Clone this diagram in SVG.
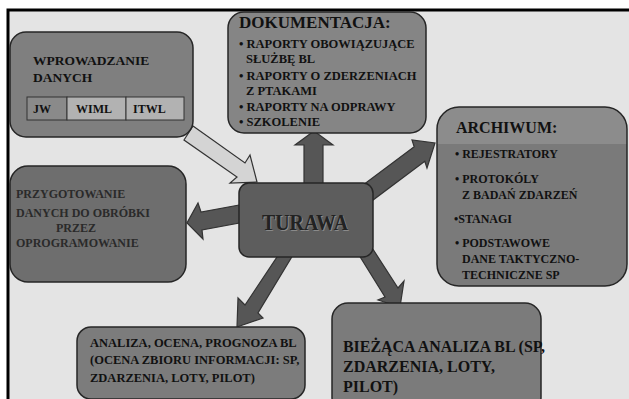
<svg xmlns="http://www.w3.org/2000/svg" width="629" height="399" viewBox="0 0 629 399">
<style>
.box{stroke:#262626;stroke-width:1.5}
.arr{fill:#565656;stroke:#333;stroke-width:1.2;stroke-linejoin:miter}
text{font-family:"Liberation Serif","Times New Roman",serif;font-weight:bold;fill:#111}
.t12{font-size:12px}
.t125{font-size:12.5px}
.t13{font-size:13.5px}
.t16{font-size:16px}
.t17{font-size:17px}
.cell{stroke:#333;stroke-width:1}
</style>
<rect x="0" y="0" width="629" height="399" fill="#ffffff"/>
<rect x="8" y="10" width="621" height="389" fill="#e4e4e4"/>
<path d="M8,399 V10 H629" fill="none" stroke="#000" stroke-width="3"/>

<g id="connectors">
  <polygon points="193,126 245,163 250,155 257,182 230,183 237,177 184,140" fill="#d4d4d4" stroke="#333" stroke-width="1.2"/>
  <polygon class="arr" points="304,190 304,145 295,145 314,131 333,145 323,145 323,190"/>
  <polygon class="arr" points="356.7,189.7 414.2,146.7 412,140 435,143 427,168 424.8,161.3 367.3,204.3"/>
  <polygon class="arr" points="250,203 201,212 198,203 187,223 203,239 202,230 250,221"/>
  <polygon class="arr" points="285,245 245,305 238,298 237,327 263,318 258,313 299,245"/>
  <polygon class="arr" points="354,247 385,297 378,300 400,307 404,281 398,288 367,240"/>
</g>

<g id="wprowadzanie">
  <rect class="box" x="10" y="32" width="183" height="105" rx="16" fill="#7f7f7f"/>
  <text class="t13" x="33" y="65">WPROWADZANIE</text>
  <text class="t13" x="33" y="82">DANYCH</text>
  <rect class="cell" x="27" y="97" width="40" height="23" fill="#8a8a8a"/>
  <rect class="cell" x="67" y="97" width="59" height="23" fill="#b2b2b2"/>
  <rect class="cell" x="126" y="97" width="58" height="23" fill="#b2b2b2"/>
  <text class="t12" x="33" y="113">JW</text>
  <text class="t12" x="76" y="113">WIML</text>
  <text class="t12" x="133" y="113">ITWL</text>
</g>

<g id="dokumentacja">
  <rect class="box" x="228" y="12" width="198" height="121" rx="16" fill="#858585"/>
  <text class="t17" x="239" y="28">DOKUMENTACJA:</text>
  <text class="t125" x="239" y="48">• RAPORTY OBOWIĄZUJĄCE</text>
  <text class="t125" x="246" y="63">SŁUŻBĘ BL</text>
  <text class="t125" x="239" y="80">• RAPORTY O ZDERZENIACH</text>
  <text class="t125" x="246" y="95">Z PTAKAMI</text>
  <text class="t125" x="239" y="111">• RAPORTY NA ODPRAWY</text>
  <text class="t125" x="239" y="126">• SZKOLENIE</text>
</g>

<g id="archiwum">
  <clipPath id="archClip"><rect x="437" y="107" width="190" height="179" rx="22"/></clipPath>
  <rect x="437" y="107" width="190" height="179" rx="22" fill="#7a7a7a"/>
  <rect x="437" y="107" width="190" height="37" fill="#8c8c8c" clip-path="url(#archClip)"/>
  <rect x="437" y="107" width="190" height="179" rx="22" fill="none" class="box"/>
  <text x="456" y="133" style="font-size:16px">ARCHIWUM:</text>
  <text class="t12" x="455" y="158">• REJESTRATORY</text>
  <text class="t12" x="455" y="183">• PROTOKÓLY</text>
  <text class="t12" x="462" y="199">Z BADAŃ ZDARZEŃ</text>
  <text class="t12" x="454" y="223">•STANAGI</text>
  <text class="t12" x="455" y="247">• PODSTAWOWE</text>
  <text class="t12" x="462" y="263">DANE TAKTYCZNO-</text>
  <text class="t12" x="462" y="279">TECHNICZNE SP</text>
</g>

<g id="turawa">
  <rect class="box" x="239" y="183" width="134" height="74" rx="10" fill="#5d5d5d"/>
  <text x="306" y="231" text-anchor="middle" style="font-size:23px;fill:#8a8a8a" textLength="86" lengthAdjust="spacingAndGlyphs">TURAWA</text>
  <text x="305" y="230" text-anchor="middle" style="font-size:23px;fill:#222" textLength="86" lengthAdjust="spacingAndGlyphs">TURAWA</text>
</g>

<g id="przygotowanie">
  <rect class="box" x="10" y="166" width="176" height="116" rx="18" fill="#6e6e6e"/>
  <text class="t12" x="16" y="198" style="fill:#2a2a2a">PRZYGOTOWANIE</text>
  <text class="t12" x="16" y="217" style="fill:#2a2a2a">DANYCH DO OBRÓBKI</text>
  <text class="t12" x="76" y="232" text-anchor="middle" style="fill:#2a2a2a">PRZEZ</text>
  <text class="t12" x="16" y="247" style="fill:#2a2a2a">OPROGRAMOWANIE</text>
</g>

<g id="analiza">
  <rect class="box" x="77" y="327" width="228" height="72" rx="14" fill="#7c7c7c"/>
  <text class="t125" x="90" y="347">ANALIZA, OCENA, PROGNOZA BL</text>
  <text class="t125" x="90" y="364">(OCENA ZBIORU INFORMACJI: SP,</text>
  <text class="t125" x="90" y="382">ZDARZENIA, LOTY, PILOT)</text>
</g>

<g id="biezaca">
  <rect class="box" x="332" y="303" width="209" height="110" rx="16" fill="#7b7b7b"/>
  <text class="t16" x="343" y="352" textLength="202" lengthAdjust="spacingAndGlyphs">BIEŻĄCA ANALIZA  BL (SP,</text>
  <text class="t16" x="343" y="372">ZDARZENIA, LOTY,</text>
  <text class="t16" x="343" y="392">PILOT)</text>
</g>
</svg>
